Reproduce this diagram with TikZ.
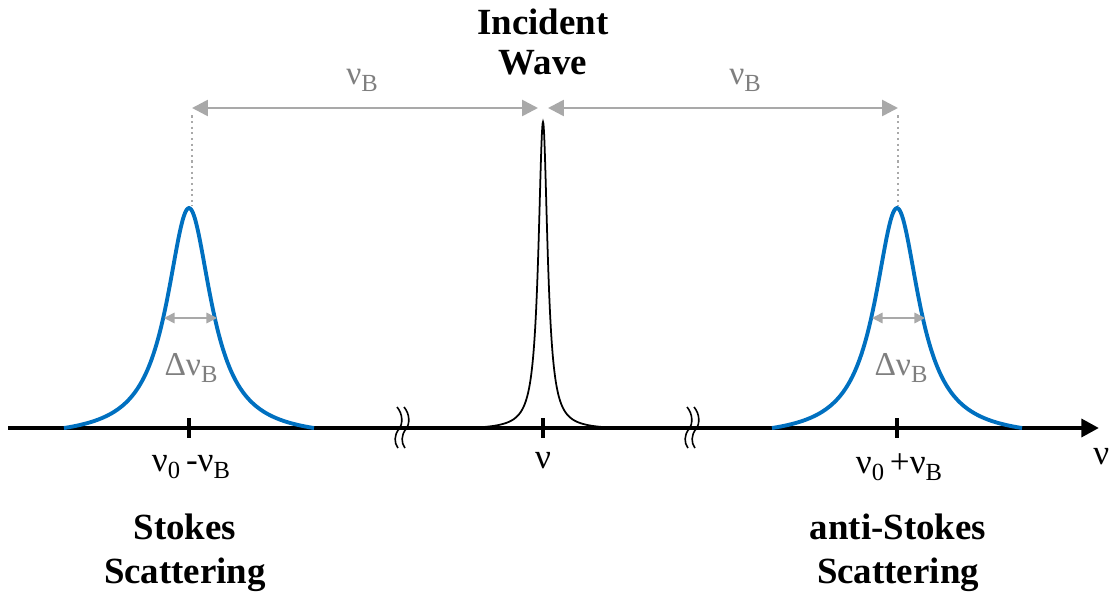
\documentclass[tikz,border=0pt]{standalone}
\usepackage{fontspec}
\setmainfont{Liberation Serif}
\usetikzlibrary{arrows.meta}
\definecolor{peakblue}{HTML}{0070C0}
\definecolor{arrgrey}{HTML}{A9A9A9}
\definecolor{txtgrey}{HTML}{7F7F7F}
\newcommand{\lowsub}[1]{\raisebox{-0.45ex}{\fontsize{14}{16}\selectfont #1}}
\tikzset{
  axisline/.style={line width=2.8pt},
  tickmark/.style={line width=2.8pt},
  bluepeak/.style={line width=2.2pt, peakblue},
  blackpeak/.style={line width=1pt, black},
  greyarrow/.style={line width=1.5pt, arrgrey, {Triangle[length=9pt,width=9pt]}-{Triangle[length=9pt,width=9pt]}},
  smallarrow/.style={line width=0.9pt, arrgrey, {Triangle[length=6pt,width=6pt]}-{Triangle[length=6pt,width=6pt]}},
  guide/.style={line width=1.2pt, arrgrey, dotted},
  boldlabel/.style={font=\fontsize{21}{24}\selectfont\bfseries, align=center, inner sep=0pt},
  nulabel/.style={font=\fontsize{20}{22}\selectfont, inner sep=0pt},
  greylabel/.style={font=\fontsize{19}{22}\selectfont, text=txtgrey, inner sep=0pt},
  breakmark/.style={line width=0.9pt},
}
\begin{document}
\begin{tikzpicture}[x=0.02cm,y=-0.02cm]
\useasboundingbox (0,0) rectangle (1112,594);
% axis
\coordinate (axL) at (8,428);
\coordinate (axR) at (1099,428);
\draw[axisline, -{Triangle[length=10pt,width=10pt]}] (axL) -- (axR);
% ticks
\coordinate (t1) at (189,428);
\coordinate (t2) at (543,428);
\coordinate (t3) at (897,428);
\foreach \t in {t1,t2,t3} \draw[tickmark] ([yshift=-0.2cm]\t) -- ([yshift=0.2cm]\t);
% peaks
\draw[bluepeak] plot[domain=-125:125, samples=201, smooth] ({189+\x}, {428 - 220*(1/(1+(\x/27)^2) - 0.0446)/(1-0.0446)});
\draw[bluepeak] plot[domain=-125:125, samples=201, smooth] ({897+\x}, {428 - 220*(1/(1+(\x/27)^2) - 0.0446)/(1-0.0446)});
\draw[blackpeak] plot[domain=-75:75, samples=401, smooth] ({543+\x}, {428 - 306*(1/(1+(\x/5.5)^2) - 0.00535)/(1-0.00535)});
% break marks
\foreach \bx in {397,404,687,694}
  \draw[breakmark] (\bx,407) .. controls (\bx+6,414) and (\bx+6,424) .. (\bx+2,429) .. controls (\bx-3,435) and (\bx-3,443) .. (\bx+1,448);
% top arrows
\coordinate (lt) at (192,108);
\coordinate (ct) at (543,108);
\coordinate (rt) at (898,108);
\draw[greyarrow] (lt) -- ([xshift=-0.1cm]ct);
\draw[greyarrow] ([xshift=0.1cm]ct) -- (rt);
\coordinate (ld) at (192,206);
\coordinate (rd) at (898,206);
\draw[guide] ([yshift=-0.15cm]lt) -- (ld);
\draw[guide] ([yshift=-0.15cm]rt) -- (rd);
% width arrows
\coordinate (wl1) at (164,318);
\coordinate (wl2) at (217,318);
\coordinate (wr1) at (872,318);
\coordinate (wr2) at (925,318);
\draw[smallarrow] (wl1) -- (wl2);
\draw[smallarrow] (wr1) -- (wr2);
% labels
\node[boldlabel] (inc) at (543,42) {Incident\\[-1pt]Wave};
\node[greylabel] (nbL) at (362,80) {ν\lowsub{B}};
\node[greylabel] (nbR) at (745,80) {ν\lowsub{B}};
\node[greylabel] (dnL) at (191,368) {Δν\lowsub{B}};
\node[greylabel] (dnR) at (901,368) {Δν\lowsub{B}};
\node[nulabel] (l1) at (191,467) {ν\lowsub{0}\,-ν\lowsub{B}};
\node[nulabel] (l2) at (543,461) {ν};
\node[nulabel] (l3) at (899,467) {ν\lowsub{0}\,+ν\lowsub{B}};
\node[nulabel, anchor=west] (l4) at (1093,457) {ν};
\node[boldlabel] (st) at (185,553) {Stokes\\[1pt]Scattering};
\node[boldlabel] (ast) at (898,553) {anti-Stokes\\[1pt]Scattering};
\end{tikzpicture}
\end{document}
